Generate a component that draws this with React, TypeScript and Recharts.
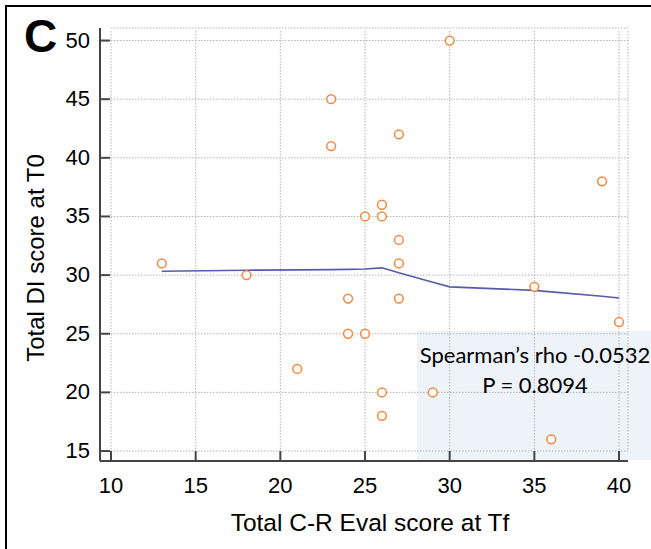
import React from "react";
import { ComposedChart, Scatter, Line, XAxis, YAxis, CartesianGrid, Label } from "recharts";

const pointsX = [13, 18, 21, 23, 23, 24, 24, 25, 25, 26, 26, 26, 26, 27, 27, 27, 27, 29, 30, 35, 36, 39, 40];
const pointsY = [31, 30, 22, 45, 41, 28, 25, 25, 35, 36, 35, 20, 18, 42, 33, 31, 28, 20, 50, 29, 16, 38, 26];

const fitX = [13, 18, 21, 23, 24, 25, 26, 27, 29, 30, 35, 36, 39, 40];
const fitY = [30.33, 30.42, 30.45, 30.47, 30.49, 30.52, 30.62, 30.2, 29.4, 29.0, 28.7, 28.57, 28.2, 28.05];

const xTicks = [10, 15, 20, 25, 30, 35, 40];
const yTicks = [15, 20, 25, 30, 35, 40, 45, 50];

const xTitle = "Total C-R Eval score at Tf";
const yTitle = "Total DI score at T0";
const panelLetter = "C";
const statLine1 = "Spearman\u2019s rho -0.0532";
const statLine2 = "P = 0.8094";

const scatterData = pointsX.map((x, i) => ({ x, y: pointsY[i] }));
const fitData = fitX.map((x, i) => ({ x, y: fitY[i] }));

const FONT = "'Liberation Sans', Arial, sans-serif";
const GRID = "#b4b4b4";
const AXIS = "#454545";

const XTick = (p: any) => (
  <g>
    <line x1={p.x} y1={p.y} x2={p.x} y2={p.y - 10} stroke={AXIS} strokeWidth={2} />
    <text x={p.x} y={p.y + 32} textAnchor="middle" fontFamily={FONT} fontSize={22} fill="#000">
      {p.payload.value}
    </text>
  </g>
);

const YTick = (p: any) => (
  <g>
    <line x1={p.x} y1={p.y} x2={p.x + 10} y2={p.y} stroke={AXIS} strokeWidth={2} />
    <text x={p.x - 10} y={p.y + 7} textAnchor="end" fontFamily={FONT} fontSize={22} fill="#000">
      {p.payload.value}
    </text>
  </g>
);

const Dot = (p: any) => (
  <circle cx={p.cx} cy={p.cy} r={4.4} fill="#ffffff" stroke="#f5883c" strokeWidth={1.5} />
);

export default function App() {
  return (
    <div style={{ position: "absolute", left: 0, top: 0, width: 651, height: 549, background: "#fff", overflow: "hidden" }}>
      <div style={{ position: "absolute", left: 417, top: 331, width: 234, height: 129, background: "#edf3f9" }} />
      <div
        style={{
          position: "absolute",
          left: 5,
          top: 5,
          width: 646,
          height: 544,
          borderTop: "2px solid #000",
          borderLeft: "2px solid #000",
          boxSizing: "border-box",
        }}
      />
      <div style={{ position: "absolute", left: 0, top: 0 }}>
        <ComposedChart width={651} height={549} margin={{ top: 28, right: 23, left: 0, bottom: 0 }}>
          <CartesianGrid
            stroke={GRID}
            strokeDasharray="1.5 1.5"
            horizontal={(p: any) => (
              <line key={`h${p.index}`} x1={p.x1 + 11} y1={p.y1} x2={p.x2} y2={p.y2} stroke={GRID} strokeWidth={1} strokeDasharray="1.5 1.5" />
            )}
            vertical={(p: any) => (
              <line key={`v${p.index}`} x1={p.x1} y1={p.y1 + 3} x2={p.x2} y2={p.y2 - 10} stroke={GRID} strokeWidth={1} strokeDasharray="1.5 1.5" />
            )}
          />
          <XAxis
            type="number"
            dataKey="x"
            domain={[9.35, 40.53]}
            ticks={xTicks}
            allowDataOverflow
            height={88}
            tickSize={0}
            tickMargin={0}
            tickLine={false}
            axisLine={{ stroke: AXIS, strokeWidth: 2 }}
            tick={(p: any) => <XTick {...p} />}
            interval={0}
          >
            <Label
              content={(props: any) => (
                <text x={props.viewBox.x + 270} y={props.viewBox.y + 70} textAnchor="middle" fontFamily={FONT} fontSize={24.5} fill="#000">
                  {xTitle}
                </text>
              )}
            />
          </XAxis>
          <YAxis
            type="number"
            dataKey="y"
            domain={[14.15, 51.07]}
            ticks={yTicks}
            allowDataOverflow
            width={100}
            tickSize={0}
            tickMargin={0}
            tickLine={false}
            axisLine={{ stroke: AXIS, strokeWidth: 2 }}
            tick={(p: any) => <YTick {...p} />}
            interval={0}
          >
            <Label
              content={(props: any) => (
                <text
                  x={44}
                  y={props.viewBox.y + 230}
                  transform={`rotate(-90, 44, ${props.viewBox.y + 230})`}
                  textAnchor="middle"
                  fontFamily={FONT}
                  fontSize={24}
                  fill="#000"
                >
                  {yTitle}
                </text>
              )}
            />
          </YAxis>
          <Line data={fitData} dataKey="y" type="linear" stroke="#5a5aaa" strokeWidth={1.6} dot={false} isAnimationActive={false} />
          <Scatter data={scatterData} dataKey="y" shape={(p: any) => <Dot {...p} />} isAnimationActive={false} />
        </ComposedChart>
      </div>
      <svg width={651} height={549} style={{ position: "absolute", left: 0, top: 0, pointerEvents: "none" }}>
        <text x={24} y={52} fontFamily={FONT} fontWeight="bold" fontSize={46} fill="#000">
          {panelLetter}
        </text>
        <text x={535} y={363} textAnchor="middle" fontFamily="Lato, 'Open Sans', sans-serif" fontSize={22} fill="#000">
          {statLine1}
        </text>
        <text x={535} y={393} textAnchor="middle" fontFamily="Lato, 'Open Sans', sans-serif" fontSize={22} fill="#000">
          {statLine2}
        </text>
      </svg>
    </div>
  );
}
